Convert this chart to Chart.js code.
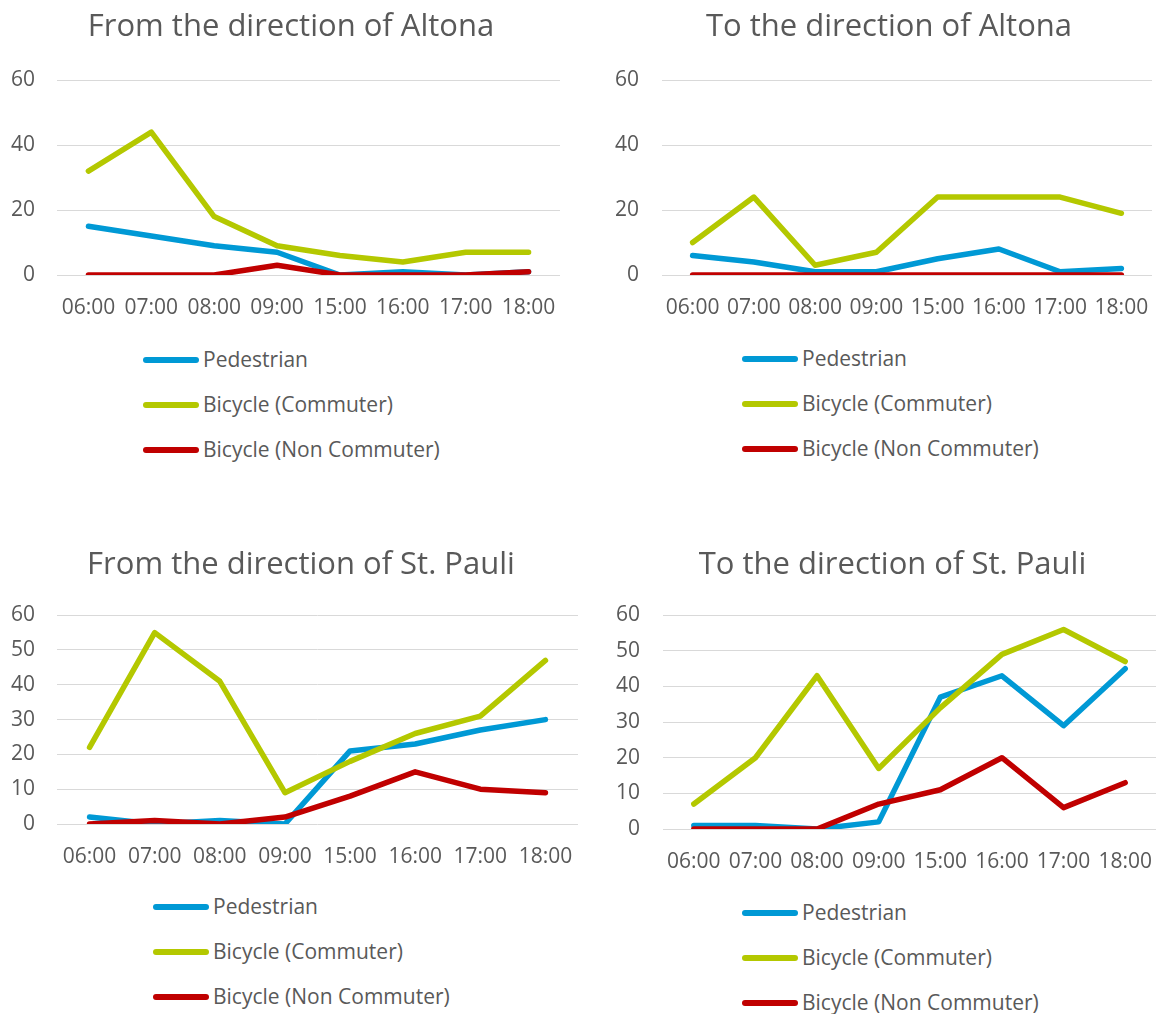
<!DOCTYPE html>
<html>
<head>
<meta charset="utf-8">
<script src="https://cdn.jsdelivr.net/npm/chart.js@4.4.1/dist/chart.umd.min.js"></script>
<style>
  html, body { margin: 0; background: #fff; overflow: hidden; }
  body { width: 1156px; height: 1014px; position: relative; font-family: "Open Sans", sans-serif; }
  .box { position: absolute; }
  .legend { position: absolute; color: #595959; font-size: 21px; }
  .legend div { position: absolute; white-space: nowrap; height: 0; }
  .legend span.mark { position: absolute; height: 6px; border-radius: 3px; top: -3px; }
  .legend span.txt { position: absolute; top: -15px; line-height: 29px; }
</style>
</head>
<body>
<div class="box" style="left:0;top:0;width:580px;height:325px"><canvas id="c1"></canvas></div>
<div class="box" style="left:580px;top:0;width:600px;height:325px"><canvas id="c2"></canvas></div>
<div class="box" style="left:0;top:538px;width:600px;height:336px"><canvas id="c3"></canvas></div>
<div class="box" style="left:580px;top:538px;width:600px;height:341px"><canvas id="c4"></canvas></div>
<div class="legend" id="l1" style="left:143px;top:360px"></div>
<div class="legend" id="l2" style="left:742px;top:359px"></div>
<div class="legend" id="l3" style="left:153px;top:907px"></div>
<div class="legend" id="l4" style="left:742px;top:913px"></div>
<script>
var hours = ["06:00", "07:00", "08:00", "09:00", "15:00", "16:00", "17:00", "18:00"];
var seriesNames = ["Pedestrian", "Bicycle (Commuter)", "Bicycle (Non Commuter)"];
var seriesColors = ["#0099D5", "#B4C800", "#C00000"];

var fromAltonaPed = [15, 12, 9, 7, 0, 1, 0, 1];
var fromAltonaCommuter = [32, 44, 18, 9, 6, 4, 7, 7];
var fromAltonaNonCommuter = [0, 0, 0, 3, 0, 0, 0, 1];

var toAltonaPed = [6, 4, 1, 1, 5, 8, 1, 2];
var toAltonaCommuter = [10, 24, 3, 7, 24, 24, 24, 19];
var toAltonaNonCommuter = [0, 0, 0, 0, 0, 0, 0, 0];

var fromPauliPed = [2, 0, 1, 0, 21, 23, 27, 30];
var fromPauliCommuter = [22, 55, 41, 9, 18, 26, 31, 47];
var fromPauliNonCommuter = [0, 1, 0, 2, 8, 15, 10, 9];

var toPauliPed = [1, 1, 0, 2, 37, 43, 29, 45];
var toPauliCommuter = [7, 20, 43, 17, 34, 49, 56, 47];
var toPauliNonCommuter = [0, 0, 0, 7, 11, 20, 6, 13];

var grey = "#595959";

function makeChart(id, legendId, title, series, lay) {
  var datasets = series.map(function (values, i) {
    return {
      label: seriesNames[i],
      data: values,
      borderColor: seriesColors[i],
      backgroundColor: seriesColors[i],
      borderWidth: 5.5,
      borderCapStyle: "round",
      borderJoinStyle: "round",
      pointRadius: 0,
      tension: 0,
      order: 3 - i
    };
  });

  var chart = new Chart(id, {
    type: "line",
    data: { labels: hours, datasets: datasets },
    options: {
      responsive: true,
      maintainAspectRatio: false,
      animation: false,
      layout: { padding: { left: lay.padLeft, right: lay.padRight, top: 0, bottom: 0 } },
      plugins: {
        legend: { display: false },
        tooltip: { enabled: false },
        title: {
          display: true,
          text: title,
          color: grey,
          font: { family: "Open Sans", size: 31, weight: "normal" },
          padding: { top: 9, bottom: lay.titleGap }
        }
      },
      scales: {
        x: {
          offset: true,
          grid: { display: false, drawTicks: false },
          border: { display: false },
          ticks: {
            color: grey,
            font: { family: "Open Sans", size: 21 },
            padding: 20,
            autoSkip: false,
            maxRotation: 0
          },
          afterFit: function (s) { s.height = 50; }
        },
        y: {
          min: 0,
          max: 60,
          grid: { color: "#D9D9D9", lineWidth: 1, drawTicks: false },
          border: { display: false },
          ticks: {
            stepSize: lay.step,
            color: grey,
            font: { family: "Open Sans", size: 21 },
            padding: lay.tickPad
          },
          afterFit: function (s) { s.width = lay.axisWidth; }
        },
        // empty right-hand space so the title centres like the original
        spacer: {
          type: "linear",
          position: "right",
          grid: { display: false, drawTicks: false },
          border: { display: false },
          ticks: { display: false },
          afterFit: function (s) { s.width = lay.spacer; }
        }
      }
    }
  });

  var legend = document.getElementById(legendId);
  chart.data.datasets.forEach(function (ds, i) {
    var row = document.createElement("div");
    row.style.top = (i * 45) + "px";
    var mark = document.createElement("span");
    mark.className = "mark";
    mark.style.width = "56px";
    mark.style.background = ds.borderColor;
    var txt = document.createElement("span");
    txt.className = "txt";
    txt.style.left = "60px";
    txt.textContent = ds.label;
    row.appendChild(mark);
    row.appendChild(txt);
    legend.appendChild(row);
  });
  return chart;
}

makeChart("c1", "l1", "From the direction of Altona",
  [fromAltonaPed, fromAltonaCommuter, fromAltonaNonCommuter],
  { padLeft: 8, padRight: 6, axisWidth: 49, tickPad: 22, spacer: 14, step: 20, titleGap: 34 });

makeChart("c2", "l2", "To the direction of Altona",
  [toAltonaPed, toAltonaCommuter, toAltonaNonCommuter],
  { padLeft: 30, padRight: 12, axisWidth: 52, tickPad: 23, spacer: 16, step: 20, titleGap: 34 });

makeChart("c3", "l3", "From the direction of St. Pauli",
  [fromPauliPed, fromPauliCommuter, fromPauliNonCommuter],
  { padLeft: 8, padRight: 6, axisWidth: 49, tickPad: 22, spacer: 16, step: 10, titleGap: 31 });

makeChart("c4", "l4", "To the direction of St. Pauli",
  [toPauliPed, toPauliCommuter, toPauliNonCommuter],
  { padLeft: 32, padRight: 7, axisWidth: 51, tickPad: 23, spacer: 17, step: 10, titleGap: 31 });
</script>
</body>
</html>
